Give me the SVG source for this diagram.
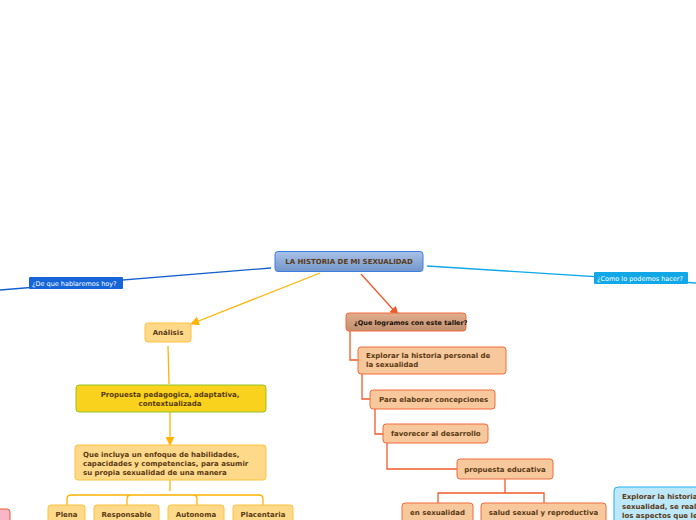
<svg xmlns="http://www.w3.org/2000/svg" width="696" height="520" viewBox="0 0 696 520">
<defs>
<linearGradient id="gCentral" x1="0" y1="0" x2="0" y2="1"><stop offset="0" stop-color="#a9c1e6"/><stop offset="1" stop-color="#7396cc"/></linearGradient>
<linearGradient id="gTaller" x1="0" y1="0" x2="0" y2="1"><stop offset="0" stop-color="#e2ad8c"/><stop offset="1" stop-color="#bf9070"/></linearGradient>
<marker id="arrY" viewBox="0 0 10 10" refX="9" refY="5" markerWidth="9" markerHeight="9" markerUnits="userSpaceOnUse" orient="auto"><path d="M0,0 L10,5 L0,10 z" fill="#ffb300"/></marker>
<marker id="arrR" viewBox="0 0 10 10" refX="9" refY="5" markerWidth="9" markerHeight="9" markerUnits="userSpaceOnUse" orient="auto"><path d="M0,0 L10,5 L0,10 z" fill="#f05a28"/></marker>
</defs>
<style>
text{font-family:"DejaVu Sans","Liberation Sans",sans-serif;font-weight:bold;font-size:7px;fill:#5a3a14}
.lbl{font-weight:normal;font-size:6.5px;fill:#ffffff}
.yel{fill:#ffd98a;stroke:#ffc13b;stroke-width:1}
.sal{fill:#f7c89c;stroke:#f26a3a;stroke-width:1}
.cy{fill:none;stroke:#ffb300;stroke-width:1.3}
.cr{fill:none;stroke:#f05a28;stroke-width:1.3}
.c{text-anchor:middle}
</style>
<g id="connectors">
<path d="M271,268 L0,290" fill="none" stroke="#1560d0" stroke-width="1.3"/>
<path d="M427,266 L696,283" fill="none" stroke="#12a8e8" stroke-width="1.3"/>
<path class="cy" d="M320,273 L191,324" marker-end="url(#arrY)"/>
<path class="cy" d="M168,346 L169,384"/>
<path class="cy" d="M170,412 L170,445" marker-end="url(#arrY)"/>
<path class="cy" d="M170,480 V491 M67,505 V499 Q67,495 71,495 H259 Q263,495 263,499 V505 M127,505 V499 Q127,495 131,495 M197,505 V499 Q197,495 193,495"/>
<path class="cr" d="M361,274 L398,315" marker-end="url(#arrR)"/>
<path class="cr" d="M350,331 V360 H358"/>
<path class="cr" d="M362,374 V399 H370"/>
<path class="cr" d="M375,409 V434 H383"/>
<path class="cr" d="M387,443 V469 H457"/>
<path class="cr" d="M505,479 V493 M438,503 V493 H544 V503"/>
</g>
<g id="central"><rect x="275" y="251.5" width="148" height="20" rx="3" fill="url(#gCentral)" stroke="#3f7ee0" stroke-width="1"/><text class="c" x="349" y="264">LA HISTORIA DE MI SEXUALIDAD</text></g>
<g id="lbl-hablaremos"><rect x="29" y="277" width="94" height="12" rx="1" fill="#1565d8"/><text class="lbl" x="32" y="285.5">¿De que hablaremos hoy?</text></g>
<g id="lbl-como"><rect x="594" y="272" width="94" height="12" rx="1" fill="#12a8e8"/><text class="lbl" x="597" y="280.5">¿Como lo podemos hacer?</text></g>
<g id="analisis"><rect class="yel" x="145" y="323" width="46" height="19" rx="3"/><text class="c" x="168" y="335">Análisis</text></g>
<g id="propuesta-pedagogica"><rect x="76" y="385" width="190" height="27" rx="3" fill="#f8d21c" stroke="#8fc424" stroke-width="1"/><text class="c" x="170" y="397">Propuesta pedagogica, adaptativa,</text><text class="c" x="170" y="406">contextualizada</text></g>
<g id="que-incluya"><rect class="yel" x="75" y="445" width="191" height="35" rx="3"/><text x="83" y="457">Que incluya un enfoque de habilidades,</text><text x="83" y="466">capacidades y competencias, para asumir</text><text x="83" y="474.5">su propia sexualidad de una manera</text></g>
<g id="plena"><rect class="yel" x="48" y="505" width="37" height="20" rx="3"/><text class="c" x="66.5" y="516.5">Plena</text></g>
<g id="responsable"><rect class="yel" x="94" y="505" width="65" height="20" rx="3"/><text class="c" x="126.5" y="516.5">Responsable</text></g>
<g id="autonoma"><rect class="yel" x="168" y="505" width="56" height="20" rx="3"/><text class="c" x="196" y="516.5">Autonoma</text></g>
<g id="placentaria"><rect class="yel" x="233" y="505" width="60" height="20" rx="3"/><text class="c" x="263" y="516.5">Placentaria</text></g>
<g id="pink"><rect x="-20" y="509" width="30" height="20" rx="3" fill="#f8b6c8" stroke="#f25a30" stroke-width="1"/></g>
<g id="taller"><rect x="346" y="313" width="120" height="18" rx="3" fill="url(#gTaller)" stroke="#f26a3a" stroke-width="1"/><text x="354" y="324.5" style="fill:#1a1008;font-size:6.5px">¿Que logramos con este taller?</text></g>
<g id="explorar"><rect class="sal" x="358" y="347" width="148" height="27" rx="3"/><text x="366" y="358">Explorar la historia personal de</text><text x="366" y="367">la sexualidad</text></g>
<g id="elaborar"><rect class="sal" x="370" y="390" width="125" height="19" rx="3"/><text x="379" y="402">Para elaborar concepciones</text></g>
<g id="favorecer"><rect class="sal" x="383" y="424" width="105" height="19" rx="3"/><text x="391" y="436">favorecer al desarrollo</text></g>
<g id="propuesta-educativa"><rect class="sal" x="457" y="459" width="96" height="20" rx="3"/><text class="c" x="505" y="471.5">propuesta educativa</text></g>
<g id="en-sexualidad"><rect class="sal" x="402" y="503" width="71" height="22" rx="3"/><text class="c" x="437.5" y="515">en sexualidad</text></g>
<g id="salud"><rect class="sal" x="481" y="503" width="125" height="22" rx="3"/><text class="c" x="543.5" y="515">salud sexual y reproductiva</text></g>
<g id="explorar-azul"><rect x="614" y="487" width="100" height="40" rx="4" fill="#bde8fa" stroke="#22b0f0" stroke-width="1"/><text x="622" y="499">Explorar la historia</text><text x="622" y="508.5">sexualidad, se real</text><text x="622" y="518">los aspectos que le</text></g>
</svg>
